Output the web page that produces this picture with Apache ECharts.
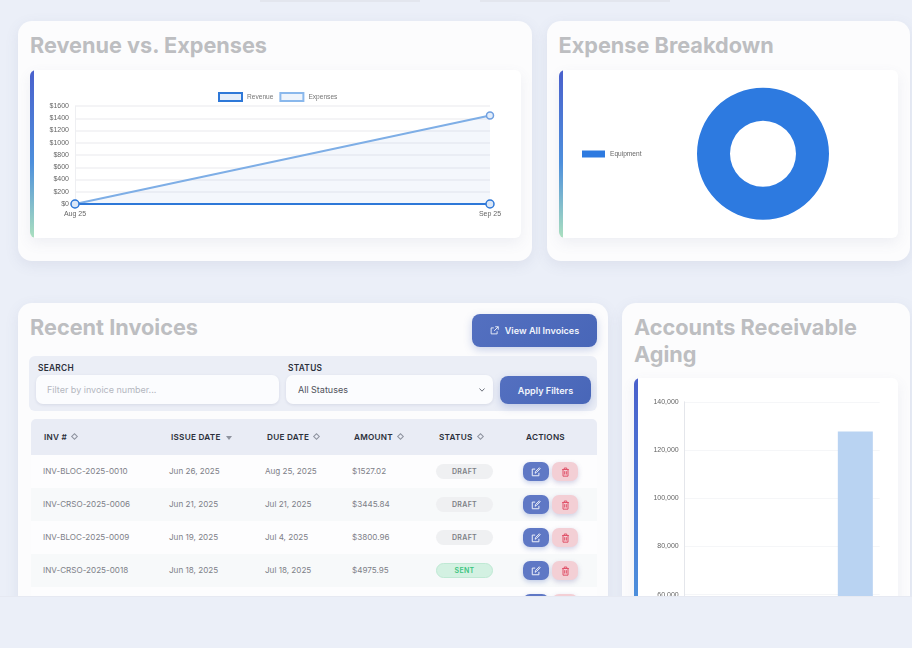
<!DOCTYPE html>
<html>
<head>
<meta charset="utf-8">
<script src="https://cdn.jsdelivr.net/npm/echarts@6/dist/echarts.min.js"></script>
<style>
  * { box-sizing: border-box; }
  html, body { margin: 0; padding: 0; width: 912px; height: 648px; overflow: hidden; background: #ebeff8; font-family: Inter, "Noto Sans", sans-serif; }
  #page { position: absolute; left: 0; top: 0; width: 912px; height: 596px; overflow: hidden; background: #ebeff8; }
  #edge { position: absolute; left: 0; top: 596px; width: 912px; height: 1px; background: #e6e9f2; }
  .abs { position: absolute; }
  .card { position: absolute; background: #fcfcfd; border-radius: 14px; box-shadow: 0 4px 14px rgba(90, 100, 140, .10); }
  .title { position: absolute; font-weight: 700; font-size: 21.7px; line-height: 26.6px; color: #bdbec1; }
  .box { position: absolute; background: #fff; border-radius: 6px; box-shadow: 0 5px 14px rgba(90, 100, 140, .09); overflow: hidden; }
  .box:before { content: ""; position: absolute; left: 0; top: 0; bottom: 0; width: 4px; z-index: 2; background: linear-gradient(180deg, #4a60cc, #4d8fdc 55%, #abe0bf); }
  .chart { position: absolute; left: 0; top: 0; width: 100%; height: 100%; }
  .btn { position: absolute; background: linear-gradient(135deg, #5470c0, #4866b8); color: #f1f4fb; font-weight: 600; font-size: 9.1px; border-radius: 8px; display: flex; align-items: center; justify-content: center; box-shadow: 0 3px 8px rgba(72, 102, 184, .28); }
  .label { position: absolute; font-weight: 600; font-size: 8.3px; letter-spacing: .3px; color: #2b2f3a; }
  .field { position: absolute; background: #fbfcfe; border-radius: 7px; box-shadow: 0 1px 3px rgba(90, 100, 140, .14); font-size: 9px; display: flex; align-items: center; }
  .th { position: absolute; top: 432px; font-weight: 600; font-size: 8.2px; line-height: 10px; letter-spacing: .25px; color: #2b2f3a; white-space: nowrap; }
  .sort { display: inline-block; width: 5px; height: 5px; margin-left: 5px; transform: rotate(45deg); border: 1px solid #8e939f; position: relative; top: -1px; }
  .sortdown { display: inline-block; margin-left: 5px; border-left: 3px solid transparent; border-right: 3px solid transparent; border-top: 4px solid #8e939f; position: relative; top: 0; }
  .row { position: absolute; left: 31px; width: 566px; height: 33px; }
  .cell { position: absolute; top: 10px; font-size: 8.1px; line-height: 12px; color: #7d8088; white-space: nowrap; }
  .badge { position: absolute; left: 405px; top: 9px; width: 57px; height: 15px; border-radius: 8px; font-weight: 600; font-size: 7px; letter-spacing: .3px; display: flex; align-items: center; justify-content: center; }
  .draft { background: #eff0f2; color: #7d8086; }
  .sent { background: #d3f1e2; color: #3cc47f; border: 1px solid #bfe9d4; }
  .act { position: absolute; top: 7px; width: 26px; height: 19px; border-radius: 7px; display: flex; align-items: center; justify-content: center; }
  .edit { left: 492px; background: #5f78c5; box-shadow: 0 2px 5px rgba(72, 102, 184, .3); }
  .del { left: 521px; background: #f3cfd5; box-shadow: 0 2px 5px rgba(120, 110, 170, .3); }
</style>
</head>
<body>
<div id="page">
  <div class="abs" style="left:260px;top:0;width:160px;height:2px;background:#e3e6ee"></div>
  <div class="abs" style="left:480px;top:0;width:190px;height:2px;background:#e3e6ee"></div>

  <div class="card" style="left:18px;top:21px;width:514px;height:240px"></div>
  <div class="title" style="left:30px;top:32px">Revenue vs. Expenses</div>
  <div class="box" style="left:30px;top:70px;width:491px;height:168px"><div class="chart" id="trendChart"></div></div>

  <div class="card" style="left:547px;top:21px;width:363px;height:240px"></div>
  <div class="title" style="left:558.5px;top:32px">Expense Breakdown</div>
  <div class="box" style="left:559px;top:70px;width:339px;height:168px"><div class="chart" id="expenseChart"></div></div>

  <div class="card" style="left:18px;top:303px;width:590px;height:320px"></div>
  <div class="title" style="left:30px;top:314px">Recent Invoices</div>
  <div class="btn" style="left:472px;top:314px;width:125px;height:33px">
    <svg width="9" height="9" viewBox="0 0 12 12" fill="none" stroke="#f1f4fb" stroke-width="1.2" style="margin-right:6px"><path d="M9.5 7v3.5h-8v-8H5M7 1h4v4M11 1L5.5 6.5"/></svg>View All Invoices
  </div>
  <div class="abs" style="left:29px;top:356px;width:568px;height:55px;background:#ebeef6;border-radius:6px"></div>
  <div class="label" style="left:38px;top:362.5px">SEARCH</div>
  <div class="field" style="left:36px;top:375px;width:243px;height:29px;padding-left:11px;color:#b4b7bf">Filter by invoice number...</div>
  <div class="label" style="left:288px;top:362.5px">STATUS</div>
  <div class="field" style="left:286px;top:375px;width:207px;height:29px;padding-left:12px;color:#50535c">All Statuses
    <svg class="abs" style="left:192px;top:12px" width="8" height="6" viewBox="0 0 8 6" fill="none" stroke="#6d717b" stroke-width="1"><path d="M1.5 1.5L4 4.2L6.5 1.5"/></svg>
  </div>
  <div class="btn" style="left:500px;top:376px;width:91px;height:28px">Apply Filters</div>

  <div class="abs" style="left:31px;top:419px;width:566px;height:36px;background:#e9ecf5;border-radius:5px 5px 0 0"></div>
  <div id="tableHead"></div>
  <div id="tableBody"></div>

  <div class="card" style="left:622px;top:303px;width:288px;height:320px"></div>
  <div class="title" style="left:634px;top:314px">Accounts Receivable<br>Aging</div>
  <div class="box" style="left:634px;top:378px;width:264px;height:400px"><div class="chart" id="agingChart"></div></div>
</div>
<div id="edge"></div>

<script>
// line chart
const trendMonths = ['Aug 25', 'Sep 25'];
const revenueValues = [0, 0];
const expenseValues = [0, 1445];

// doughnut
const breakdownLabels = ['Equipment'];
const breakdownValues = [1445];

// bars, only the last one reaches above the fold
const agingBuckets = ['Current', '1-30', '31-60', '61+'];
const agingValues = [0, 0, 0, 127700];

// table
const headers = ['INV #', 'ISSUE DATE', 'DUE DATE', 'AMOUNT', 'STATUS', 'ACTIONS'];
const invoiceNumbers = ['INV-BLOC-2025-0010', 'INV-CRSO-2025-0006', 'INV-BLOC-2025-0009', 'INV-CRSO-2025-0018'];
const issueDates = ['Jun 26, 2025', 'Jun 21, 2025', 'Jun 19, 2025', 'Jun 18, 2025'];
const dueDates = ['Aug 25, 2025', 'Jul 21, 2025', 'Jul 4, 2025', 'Jul 18, 2025'];
const amounts = ['$1527.02', '$3445.84', '$3800.96', '$4975.95'];
const statuses = ['DRAFT', 'DRAFT', 'DRAFT', 'SENT'];

const chartFont = '"Liberation Sans", Arial, sans-serif';
const headerX = [44, 171, 267, 354, 439, 526];
const rowTops = [455, 488, 521, 554, 587];

const editIcon = '<svg width="10" height="10" viewBox="0 0 12 12" fill="none" stroke="#eef1fa" stroke-width="1.2"><path d="M9.5 7v3.5h-8v-8H5M5 7.5l.4-2L10 1l1 1-4.5 4.6z"/></svg>';
const delIcon = '<svg width="9" height="10" viewBox="0 0 10 12" fill="none" stroke="#e0536a" stroke-width="1.2"><path d="M1 3h8M3.5 3V1.2h3V3M2 3v8h6V3M4 5v4M6 5v4"/></svg>';

// table head
document.getElementById('tableHead').innerHTML = headers.map((h, i) => {
  let mark = '';
  if (i === 1) mark = '<span class="sortdown"></span>';
  else if (i < 5) mark = '<span class="sort"></span>';
  return `<div class="th" style="left:${headerX[i]}px">${h}${mark}</div>`;
}).join('');

// table rows
let bodyHtml = '';
rowTops.forEach((top, i) => {
  const bg = i % 2 === 0 ? '#fdfdfe' : '#f7f9fa';
  let cells = '';
  if (i < invoiceNumbers.length) {
    cells += `<div class="cell" style="left:12px">${invoiceNumbers[i]}</div>`;
    cells += `<div class="cell" style="left:138px">${issueDates[i]}</div>`;
    cells += `<div class="cell" style="left:234px">${dueDates[i]}</div>`;
    cells += `<div class="cell" style="left:321px">${amounts[i]}</div>`;
    cells += `<div class="badge ${statuses[i].toLowerCase()}">${statuses[i]}</div>`;
  }
  cells += `<div class="act edit">${editIcon}</div><div class="act del">${delIcon}</div>`;
  bodyHtml += `<div class="row" style="top:${top}px;background:${bg}">${cells}</div>`;
});
document.getElementById('tableBody').innerHTML = bodyHtml;

// 收入支出折线图
const trendChart = echarts.init(document.getElementById('trendChart'));
trendChart.setOption({
  animation: false,
  textStyle: { fontFamily: chartFont },
  legend: {
    left: 183, top: 17, itemWidth: 23, itemHeight: 8, itemGap: 6,
    textStyle: { fontSize: 6.6, color: '#777', fontFamily: chartFont },
    data: [
      { name: 'Revenue', icon: 'rect', itemStyle: { color: '#e3edfa', borderColor: '#2e78d8', borderWidth: 2 } },
      { name: 'Expenses', icon: 'rect', itemStyle: { color: '#eef4fc', borderColor: '#8ab8ec', borderWidth: 2 } }
    ]
  },
  grid: { left: 45, top: 36, width: 415, height: 98 },
  xAxis: {
    type: 'category', boundaryGap: false, data: trendMonths,
    axisLine: { show: false }, axisTick: { show: false },
    axisLabel: { fontSize: 7, color: '#666', margin: 7, showMinLabel: true, showMaxLabel: true, interval: 0 },
    splitLine: { show: true, showMinLine: true, showMaxLine: false, lineStyle: { color: '#eeeff2' } }
  },
  yAxis: {
    type: 'value', min: 0, max: 1600, interval: 200,
    axisLine: { show: false }, axisTick: { show: false },
    axisLabel: { fontSize: 7, color: '#666', margin: 6, formatter: v => '$' + v },
    splitLine: { lineStyle: { color: '#f0f1f3', width: 1.5 } }
  },
  series: [
    {
      name: 'Expenses', type: 'line', data: expenseValues, symbol: 'circle', symbolSize: 7,
      lineStyle: { color: '#7eaee6', width: 2 },
      itemStyle: { color: '#e3edfa', borderColor: '#6f9fe0', borderWidth: 1.5 },
      areaStyle: { color: 'rgba(125, 160, 225, .12)' }
    },
    {
      name: 'Revenue', type: 'line', data: revenueValues, symbol: 'circle', symbolSize: 8,
      lineStyle: { color: '#2e78d8', width: 2 },
      itemStyle: { color: '#dbe7f7', borderColor: '#2e78d8', borderWidth: 1.5 }
    }
  ]
});

// 支出环形图
const expenseChart = echarts.init(document.getElementById('expenseChart'));
expenseChart.setOption({
  animation: false,
  legend: {
    left: 18, top: 75.5, orient: 'vertical', itemWidth: 23, itemHeight: 7, icon: 'rect',
    textStyle: { fontSize: 6.6, color: '#666', fontFamily: chartFont },
    data: breakdownLabels
  },
  series: [{
    type: 'pie', center: [204, 83.7], radius: [33, 66], silent: true,
    label: { show: false }, labelLine: { show: false },
    itemStyle: { color: '#2d7ae0' },
    data: breakdownLabels.map((name, i) => ({ name, value: breakdownValues[i] }))
  }]
});

// 账龄柱状图
const agingChart = echarts.init(document.getElementById('agingChart'));
agingChart.setOption({
  animation: false,
  textStyle: { fontFamily: chartFont },
  grid: { left: 50.7, top: 23.8, width: 195, height: 337.4 },
  xAxis: {
    type: 'category', data: agingBuckets,
    axisLine: { show: false }, axisTick: { show: false }, axisLabel: { fontSize: 7, color: '#666' }
  },
  yAxis: {
    type: 'value', min: 0, max: 140000, interval: 20000,
    axisLine: { show: true, lineStyle: { color: '#e4e6eb' } }, axisTick: { show: false },
    axisLabel: { fontSize: 7, color: '#666', margin: 6 },
    splitLine: { lineStyle: { color: '#f5f6f8', width: 1.2 } }
  },
  series: [{
    type: 'bar', data: agingValues, barWidth: 35,
    itemStyle: { color: '#b9d3f2' }
  }]
});
</script>
</body>
</html>
